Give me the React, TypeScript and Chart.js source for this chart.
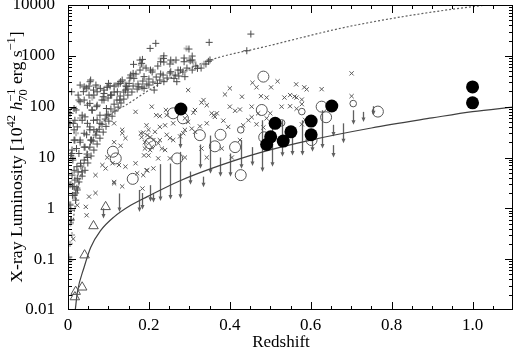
import React, { useEffect, useRef } from 'react';
import { Chart, registerables } from 'chart.js';

Chart.register(...registerables);

// ---------- data (redshift, luminosity in 1e42 erg/s) ----------
const plusPoints: [number, number][] = [
  [0.452, 2680], [0.349, 1840], [0.299, 1360], [0.442, 1260], [0.217, 1760], [0.203, 1400],
  [0.184, 850], [0.162, 680], [0.237, 1000], [0.254, 826], [0.229, 765], [0.287, 765],
  [0.307, 826], [0.351, 830], [0.32, 566], [0.278, 525], [0.254, 487], [0.229, 440],
  [0.204, 525], [0.188, 390], [0.163, 360], [0.155, 420], [0.151, 287], [0.13, 310],
  [0.114, 254], [0.097, 240], [0.08, 229], [0.056, 334], [0.052, 254], [0.04, 245],
  [0.274, 400], [0.262, 360], [0.237, 310], [0.221, 287], [0.2, 266], [0.175, 245],
  [0.213, 212], [0.188, 229], [0.142, 212], [0.122, 196], [0.089, 182], [0.072, 196],
  [0.161, 452], [0.1, 287], [0.129, 287], [0.145, 247], [0.038, 197], [0.063, 212],
  [0.087, 157], [0.108, 169], [0.128, 135], [0.054, 116], [0.071, 100], [0.095, 92],
  [0.03, 125], [0.017, 54], [0.005, 47], [0.042, 63], [0.063, 54], [0.079, 47],
  [0.054, 40], [0.071, 32], [0.046, 28], [0.03, 20], [0.058, 22], [0.042, 16],
  [0.021, 15], [0.095, 68], [0.182, 711], [0.236, 890], [0.269, 310], [0.289, 389],
  [0.027, 135], [0.048, 107], [0.015, 92], [0.06, 85], [0.035, 68], [0.072, 55],
  [0.048, 47], [0.023, 40], [0.064, 35], [0.04, 30], [0.015, 22], [0.056, 22],
  [0.04, 16], [0.027, 12], [0.048, 10], [0.007, 11], [0.031, 7.7], [0.015, 5.6],
  [0.035, 5.2], [0.023, 3.9], [0.011, 2.7], [0.019, 2], [0.002, 47], [0.072, 107],
  [0.089, 135], [0.105, 169], [0.052, 169], [0.015, 2.65], [0.023, 2.3], [0.011, 1.8],
  [0.019, 1.45], [0.007, 0.92], [0.008, 0.59], [0.002, 0.11], [0.0545, 310], [0.03, 266],
  [0.009, 196], [0.005, 74], [0.013, 47], [0.017, 22], [0.009, 12], [0.022, 6.6],
  [0.178, 826], [0.302, 800], [0.347, 780],
  // dense stripe along the lower edge of the sample
  [0.015, 1.8], [0.022, 2.5], [0.017, 3.6], [0.027, 3.3], [0.025, 5.2], [0.035, 4.3],
  [0.032, 6.8], [0.042, 5.6], [0.04, 8.9], [0.049, 7.8], [0.047, 11.7], [0.057, 10.7],
  [0.054, 16], [0.064, 14], [0.062, 21], [0.072, 18.4], [0.069, 27.6], [0.079, 24],
  [0.077, 36], [0.087, 31.6], [0.084, 45], [0.094, 41], [0.092, 57], [0.101, 52],
  [0.099, 71], [0.109, 65], [0.106, 90], [0.116, 82], [0.114, 112], [0.124, 98],
  [0.121, 135], [0.131, 118], [0.129, 162], [0.138, 141], [0.138, 194], [0.148, 169],
  [0.148, 222], [0.158, 194], [0.161, 255], [0.171, 222], [0.173, 279], [0.183, 243],
  [0.185, 319], [0.195, 279], [0.2, 350], [0.21, 305], [0.218, 383], [0.227, 334],
  [0.235, 419], [0.245, 366], [0.252, 459], [0.265, 419], [0.272, 525], [0.284, 480],
  [0.294, 575], [0.307, 525], [0.316, 630], [0.329, 575], [0.341, 690],
  // upper-left part of the sample
  [0.01, 14], [0.015, 35], [0.02, 86], [0.025, 169], [0.03, 22], [0.035, 54],
  [0.04, 135], [0.045, 232], [0.054, 35], [0.059, 86], [0.064, 169], [0.069, 266],
  [0.079, 68], [0.084, 135], [0.089, 212], [0.099, 148], [0.104, 255], [0.114, 194],
  [0.124, 279], [0.134, 334], [0.143, 255], [0.153, 366], [0.168, 438], [0.178, 525],
  [0.193, 575], [0.208, 480], [0.222, 630], [0.237, 755], [0.252, 690], [0.267, 826],
  [0.287, 905], [0.307, 990], [0.01, 4.5], [0.005, 1.16], [0.007, 0.59], [0.012, 8.9],
  [0.005, 2.9],
];

const lightPoints: [number, number][] = [
  [0.229, 890], [0.299, 826], [0.31, 760], [0.18, 660], [0.336, 700], [0.072, 245],
  [0.097, 250], [0.048, 229], [0.118, 266], [0.186, 617], [0.293, 1400], [0.26, 760],
  [0.14, 300], [0.06, 150], [0.03, 60], [0.02, 30], [0.012, 10], [0.008, 3],
  [0.006, 1.2], [0.006, 0.5], [0.005, 0.2], [0.006, 0.095], [0.01, 0.3], [0.155, 380],
  [0.21, 520],
];

const crossPoints: [number, number][] = [
  [0.701, 452], [0.518, 316], [0.466, 240], [0.502, 240], [0.564, 275], [0.584, 240],
  [0.59, 219], [0.627, 221], [0.477, 161], [0.491, 151], [0.535, 151], [0.549, 169],
  [0.56, 158], [0.565, 151], [0.578, 138], [0.701, 161], [0.528, 100], [0.549, 102],
  [0.565, 91], [0.578, 112], [0.578, 45], [0.586, 55], [0.5, 74], [0.491, 59],
  [0.466, 45], [0.483, 39], [0.47, 74], [0.456, 295],
  [0.297, 212], [0.388, 174], [0.4, 229], [0.207, 100], [0.242, 86], [0.33, 120],
  [0.343, 107], [0.314, 86], [0.31, 76], [0.4, 100], [0.425, 88], [0.413, 83],
  [0.454, 100], [0.218, 68], [0.227, 65], [0.244, 68], [0.355, 74], [0.368, 74],
  [0.363, 63], [0.343, 47], [0.326, 41], [0.297, 50], [0.289, 59], [0.384, 53],
  [0.396, 40], [0.433, 43], [0.446, 54], [0.454, 62], [0.194, 43], [0.199, 35],
  [0.186, 31], [0.215, 32], [0.227, 40], [0.24, 43], [0.26, 47], [0.285, 30],
  [0.289, 35], [0.306, 37], [0.314, 32], [0.277, 26], [0.244, 28], [0.252, 24],
  [0.26, 22], [0.227, 22], [0.223, 19], [0.211, 22], [0.203, 25], [0.182, 25],
  [0.19, 20], [0.207, 16], [0.203, 14], [0.19, 15], [0.232, 15], [0.24, 14],
  [0.199, 11], [0.223, 9.6], [0.252, 9.6], [0.289, 10], [0.343, 10], [0.33, 15],
  [0.38, 15], [0.405, 10], [0.425, 22], [0.194, 5.6], [0.211, 6.1], [0.186, 4.5],
  [0.167, 79], [0.134, 30], [0.142, 24], [0.13, 17], [0.114, 20], [0.097, 10],
  [0.11, 7.7], [0.126, 7.1], [0.142, 6.6], [0.093, 6.1], [0.085, 7.1], [0.068, 4.5],
  [0.114, 3.1], [0.134, 2.7], [0.052, 1.7], [0.068, 2], [0.044, 1.07], [0.167, 7.7],
  [0.18, 30], [0.196, 27.5], [0.2, 19], [0.188, 11], [0.171, 4.9], [0.196, 5.6],
  [0.184, 2.45], [0.134, 35], [0.114, 47], [0.046, 0.73], [0.023, 1.15], [0.114, 3.3],
  [0.013, 0.25], [0.43, 157], [0.335, 135], [0.36, 68],
];

const bigCirclePoints: [number, number][] = [
  [0.483, 390], [0.479, 86], [0.627, 100], [0.638, 62], [0.602, 22], [0.766, 80],
  [0.485, 25], [0.284, 59], [0.26, 74], [0.326, 27.5], [0.377, 28], [0.413, 16],
  [0.27, 9.6], [0.203, 19], [0.111, 13], [0.363, 16.6], [0.427, 4.5], [0.16, 3.8],
  [0.118, 9.6],
];

const smallCirclePoints: [number, number][] = [
  [0.528, 48], [0.578, 80], [0.705, 115], [0.427, 35],
];

const filledPoints: [number, number][] = [
  [0.279, 90], [0.512, 47], [0.501, 25.5], [0.491, 18], [0.532, 21], [0.551, 32],
  [0.601, 52], [0.601, 28], [0.652, 103], [1.0, 245], [1.0, 119],
];

const trianglePoints: [number, number][] = [
  [0.093, 1.07], [0.063, 0.45], [0.041, 0.12], [0.035, 0.028], [0.019, 0.023], [0.017, 0.018],
];

// upper limits: [redshift, top, arrow tip]
const upperLimits: [number, number, number][] = [
  [0.087, 1.0, 0.63], [0.126, 1.96, 0.85], [0.176, 2.3, 0.85], [0.184, 2.0, 0.95],
  [0.203, 2.86, 1.35], [0.209, 1.9, 1.3], [0.227, 7.4, 1.4], [0.252, 7.6, 1.5],
  [0.277, 12.9, 1.55], [0.278, 30, 15], [0.302, 5.3, 2.9], [0.326, 18, 6],
  [0.333, 4.2, 2.6], [0.351, 27, 4.8], [0.376, 10, 4.2], [0.4, 12, 4.2],
  [0.428, 22, 6], [0.454, 16, 6.8], [0.479, 54, 5.2], [0.504, 40, 6.6],
  [0.528, 54, 10.3], [0.553, 26, 11], [0.578, 54, 11], [0.602, 35, 13],
  [0.627, 85, 15], [0.654, 44, 26], [0.654, 17.5, 10], [0.679, 47, 19],
  [0.705, 85, 44], [0.73, 79, 50], [0.755, 102, 68],
];

const solidCurveZ = [0.018, 0.023, 0.04, 0.056, 0.08, 0.114, 0.155, 0.196, 0.277, 0.376, 0.475, 0.6, 0.75, 0.9, 1.0, 1.1];
const solidCurveL = [0.01, 0.022, 0.07, 0.17, 0.36, 0.68, 1.15, 1.7, 3.5, 7, 12.5, 22, 38, 60, 80, 98];
const dottedCurveZ = [0.012, 0.018, 0.04, 0.08, 0.155, 0.262, 0.353, 0.485, 0.71, 1.0, 1.1];
const dottedCurveL = [0.5, 1.2, 8, 42, 123, 400, 830, 1500, 4000, 9300, 11000];

const xTickValues = [0, 0.2, 0.4, 0.6, 0.8, 1.0];
const xTickLabels = ['0', '0.2', '0.4', '0.6', '0.8', '1.0'];
const yTickValues = [0.01, 0.1, 1, 10, 100, 1000, 10000];
const yTickLabels = ['0.01', '0.1', '1', '10', '100', '1000', '10000'];

const SERIF = "'Liberation Serif', 'Times New Roman', serif";
const GREY = '#555555';
const AREA = { left: 68, right: 513, top: 5, bottom: 310 };

const toXY = (a: [number, number][]) => a.map(([x, y]) => ({ x, y }));

const arrowsPlugin = {
  id: 'arrows',
  beforeDatasetsDraw(chart: any) {
    const { ctx, chartArea, scales } = chart;
    const xs = scales.x, ys = scales.y;
    ctx.save();
    ctx.beginPath();
    ctx.rect(chartArea.left, chartArea.top, chartArea.right - chartArea.left, chartArea.bottom - chartArea.top);
    ctx.clip();
    ctx.strokeStyle = '#606060';
    ctx.fillStyle = '#606060';
    ctx.lineWidth = 1.3;
    for (const [z, top, tip] of upperLimits) {
      const x = Math.round(xs.getPixelForValue(z)) + 0.5;
      const y1 = ys.getPixelForValue(top);
      const y2 = ys.getPixelForValue(tip);
      ctx.beginPath();
      ctx.moveTo(x, y1);
      ctx.lineTo(x, y2 - 3);
      ctx.stroke();
      ctx.beginPath();
      ctx.moveTo(x - 2, y2 - 4.5);
      ctx.lineTo(x + 2, y2 - 4.5);
      ctx.lineTo(x, y2);
      ctx.closePath();
      ctx.fill();
    }
    ctx.restore();
  },
};

const framePlugin = {
  id: 'frame',
  afterDraw(chart: any) {
    const { ctx, chartArea, scales } = chart;
    const xs = scales.x, ys = scales.y;
    const { left, right, top, bottom } = chartArea;
    ctx.save();
    ctx.strokeStyle = '#000';
    ctx.lineWidth = 1;
    ctx.strokeRect(left + 0.5, top + 0.5, right - left - 1, bottom - top - 1);
    ctx.beginPath();
    for (let i = 1; i < 22; i++) {
      const v = i * 0.05;
      const x = Math.round(xs.getPixelForValue(v)) + 0.5;
      const len = i % 4 === 0 ? 8 : 4;
      ctx.moveTo(x, bottom); ctx.lineTo(x, bottom - len);
      ctx.moveTo(x, top); ctx.lineTo(x, top + len);
    }
    for (let d = -2; d < 4; d++) {
      for (let m = 1; m < 10; m++) {
        if (d === -2 && m === 1) continue;
        const v = m * Math.pow(10, d);
        const y = Math.round(ys.getPixelForValue(v)) + 0.5;
        const len = m === 1 ? 8 : 4;
        ctx.moveTo(left, y); ctx.lineTo(left + len, y);
        ctx.moveTo(right, y); ctx.lineTo(right - len, y);
      }
    }
    ctx.stroke();

    ctx.fillStyle = '#000';
    ctx.font = `17px ${SERIF}`;
    ctx.textAlign = 'center';
    ctx.textBaseline = 'alphabetic';
    ctx.fillText('Redshift', 281, 347);

    const big = `17.7px ${SERIF}`;
    const small = `12.5px ${SERIF}`;
    const ital = `italic 17.7px ${SERIF}`;
    type Seg = { t: string; f: string; dy: number; stack?: string };
    const segs: Seg[] = [
      { t: 'X-ray Luminosity [10', f: big, dy: 0 },
      { t: '42', f: small, dy: -7.5 },
      { t: ' ', f: big, dy: 0 },
      { t: 'h', f: ital, dy: 0 },
      { t: '\u22121', f: small, dy: -7.5, stack: '70' },
      { t: ' erg s', f: big, dy: 0 },
      { t: '\u22121', f: small, dy: -7.5 },
      { t: ']', f: big, dy: 0 },
    ];
    let total = 0;
    const widths = segs.map((s) => {
      ctx.font = s.f;
      let w = ctx.measureText(s.t).width;
      if (s.stack) w = Math.max(w, ctx.measureText(s.stack).width);
      total += w;
      return w;
    });
    ctx.translate(22, 157);
    ctx.rotate(-Math.PI / 2);
    ctx.textAlign = 'left';
    let cx = -total / 2;
    segs.forEach((s, i) => {
      ctx.font = s.f;
      ctx.fillText(s.t, cx, s.dy);
      if (s.stack) ctx.fillText(s.stack, cx, 5);
      cx += widths[i];
    });
    ctx.restore();
  },
};

export default function App() {
  const ref = useRef<HTMLCanvasElement>(null);
  useEffect(() => {
    if (!ref.current) return;
    const tickFont = { family: SERIF, size: 17 };
    const chart = new Chart(ref.current, {
      type: 'scatter',
      data: {
        datasets: [
          {
            data: toXY(filledPoints), pointStyle: 'circle', pointRadius: 6.5,
            backgroundColor: '#000', borderColor: '#000', pointBorderWidth: 0,
          },
          {
            data: toXY(bigCirclePoints), pointStyle: 'circle', pointRadius: 5.5,
            backgroundColor: 'rgba(0,0,0,0)', borderColor: GREY, pointBorderWidth: 1,
          },
          {
            data: toXY(smallCirclePoints), pointStyle: 'circle', pointRadius: 3.3,
            backgroundColor: 'rgba(0,0,0,0)', borderColor: GREY, pointBorderWidth: 1,
          },
          {
            data: toXY(trianglePoints), pointStyle: 'triangle', pointRadius: 5.5,
            backgroundColor: 'rgba(0,0,0,0)', borderColor: GREY, pointBorderWidth: 1,
          },
          {
            data: toXY(crossPoints), pointStyle: 'crossRot', pointRadius: 3,
            borderColor: '#5a5a5a', pointBorderWidth: 1,
          },
          {
            data: toXY(plusPoints), pointStyle: 'cross', pointRadius: 3.5,
            borderColor: '#4a4a4a', pointBorderWidth: 1,
          },
          {
            data: toXY(lightPoints), pointStyle: 'cross', pointRadius: 3,
            borderColor: '#bdbdbd', pointBorderWidth: 2,
          },
          {
            type: 'line',
            data: solidCurveZ.map((z, i) => ({ x: z, y: solidCurveL[i] })),
            borderColor: '#404040', borderWidth: 1.2, pointRadius: 0,
            cubicInterpolationMode: 'monotone', fill: false,
          } as any,
          {
            type: 'line',
            data: dottedCurveZ.map((z, i) => ({ x: z, y: dottedCurveL[i] })),
            borderColor: '#606060', borderWidth: 1.2, borderDash: [2, 2], pointRadius: 0,
            cubicInterpolationMode: 'monotone', fill: false,
          } as any,
        ],
      },
      options: {
        responsive: false,
        animation: false,
        devicePixelRatio: 1,
        layout: { autoPadding: false, padding: { top: AREA.top, right: 515 - AREA.right, left: 0, bottom: 0 } },
        plugins: { legend: { display: false }, tooltip: { enabled: false } },
        scales: {
          x: {
            type: 'linear', min: 0, max: 1.1,
            grid: { display: false }, border: { display: false },
            afterBuildTicks: (s: any) => { s.ticks = xTickValues.map((v) => ({ value: v })); },
            afterFit: (s: any) => { s.height = 350 - AREA.bottom; s.paddingLeft = 0; s.paddingRight = 0; },
            ticks: {
              padding: -3, color: '#000', font: tickFont,
              maxRotation: 0, autoSkip: false,
              callback: (v: any) => { const i = xTickValues.indexOf(Number(v)); return i >= 0 ? xTickLabels[i] : ''; },
            },
          },
          y: {
            type: 'logarithmic', min: 0.01, max: 10000,
            grid: { display: false }, border: { display: false },
            afterBuildTicks: (s: any) => { s.ticks = yTickValues.map((v) => ({ value: v })); },
            afterFit: (s: any) => { s.width = AREA.left; s.paddingTop = 0; s.paddingBottom = 0; },
            ticks: {
              padding: 5, color: '#000', font: tickFont, autoSkip: false,
              callback: (v: any) => { const i = yTickValues.indexOf(Number(v)); return i >= 0 ? yTickLabels[i] : ''; },
            },
          },
        },
      } as any,
      plugins: [arrowsPlugin, framePlugin],
    });
    return () => chart.destroy();
  }, []);
  return (
    <div style={{ position: 'absolute', left: 0, top: 0, width: 515, height: 350, background: '#fff' }}>
      <canvas ref={ref} width={515} height={350} />
    </div>
  );
}
